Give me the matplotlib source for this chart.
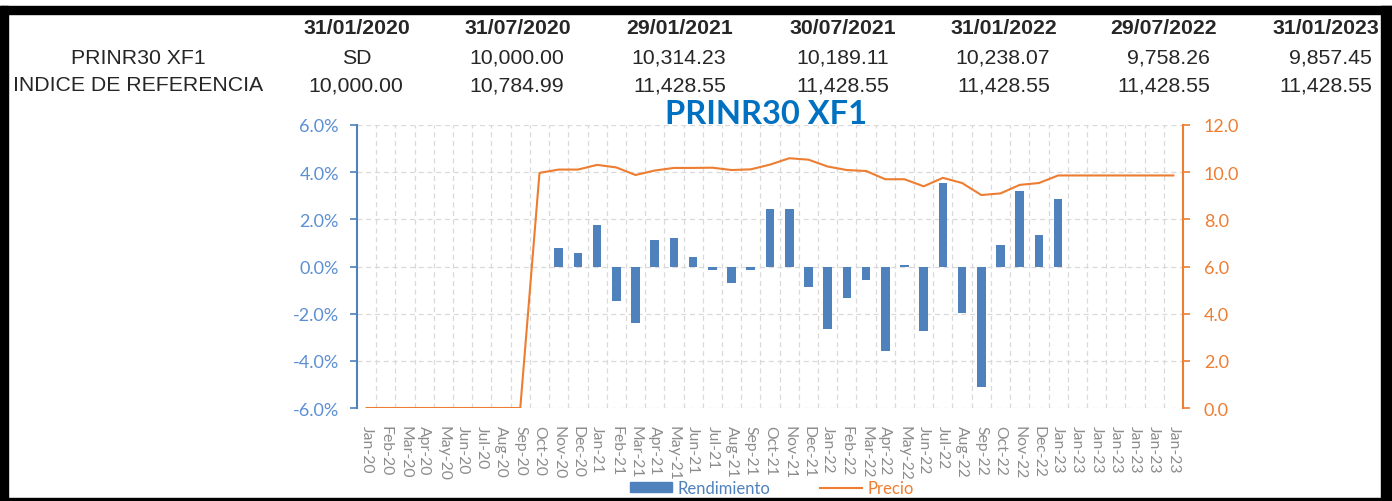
#!/usr/bin/env python
# -*- coding: utf-8 -*-

import matplotlib
matplotlib.use('Agg')
import matplotlib.pyplot as plt
from matplotlib.patches import Rectangle, Patch
from matplotlib.lines import Line2D
from matplotlib.ticker import FuncFormatter
import numpy as np

# categorias del eje x (mensual, con Jan-23 repetido al final)
meses = ['Jan-20', 'Feb-20', 'Mar-20', 'Apr-20', 'May-20', 'Jun-20', 'Jul-20', 'Aug-20',
         'Sep-20', 'Oct-20', 'Nov-20', 'Dec-20', 'Jan-21', 'Feb-21', 'Mar-21', 'Apr-21',
         'May-21', 'Jun-21', 'Jul-21', 'Aug-21', 'Sep-21', 'Oct-21', 'Nov-21', 'Dec-21',
         'Jan-22', 'Feb-22', 'Mar-22', 'Apr-22', 'May-22', 'Jun-22', 'Jul-22', 'Aug-22',
         'Sep-22', 'Oct-22', 'Nov-22', 'Dec-22', 'Jan-23', 'Jan-23', 'Jan-23', 'Jan-23',
         'Jan-23', 'Jan-23', 'Jan-23']

# rendimiento mensual (%)
rendimiento = [0, 0, 0, 0, 0, 0, 0, 0,
               0, 0, 0.77, 0.57, 1.74, -1.46, -2.40, 1.12,
               1.20, 0.40, -0.14, -0.69, -0.14, 2.45, 2.45, -0.85,
               -2.67, -1.33, -0.56, -3.60, 0.06, -2.72, 3.55, -1.97,
               -5.13, 0.90, 3.22, 1.33, 2.85, 0, 0, 0,
               0, 0, 0]

# precio (miles)
precio = [0, 0, 0, 0, 0, 0, 0, 0,
          0, 9.97, 10.11, 10.11, 10.31, 10.20, 9.88, 10.07,
          10.18, 10.18, 10.19, 10.09, 10.12, 10.32, 10.59, 10.53,
          10.24, 10.09, 10.05, 9.70, 9.70, 9.40, 9.76, 9.54,
          9.03, 9.10, 9.46, 9.54, 9.86, 9.86, 9.86, 9.86,
          9.86, 9.86, 9.86]

# tabla superior
fechas = ['31/01/2020', '31/07/2020', '29/01/2021', '30/07/2021',
          '31/01/2022', '29/07/2022', '31/01/2023']
fila_fondo = ['SD', '10,000.00', '10,314.23', '10,189.11',
              '10,238.07', '9,758.26', '9,857.45']
fila_indice = ['10,000.00', '10,784.99', '11,428.55', '11,428.55',
               '11,428.55', '11,428.55', '11,428.55']

AZUL = '#4F81BD'
NARANJA = '#ED7D31'
GRIS = '#D9D9D9'

W, H = 1392, 502


def fx(px):
    return px / float(W)


def fy(py):
    return 1 - py / float(H)


def dibujar_tabla(fig):
    tabla_font = ['Liberation Sans', 'DejaVu Sans']
    centros = [357, 518, 680, 843, 1004, 1164, 1326]
    fig.text(fx(138), fy(58), 'PRINR30 XF1', ha='center', va='center',
             fontsize=15.3, family=tabla_font, color='#262626')
    fig.text(fx(138), fy(86), 'INDICE DE REFERENCIA', ha='center', va='center',
             fontsize=15.3, family=tabla_font, color='#262626')
    for c, f, a, b in zip(centros, fechas, fila_fondo, fila_indice):
        fig.text(fx(c), fy(29), f, ha='center', va='center', fontsize=15.3,
                 fontweight='bold', family=tabla_font, color='#262626')
        if a == 'SD':
            fig.text(fx(c), fy(58), a, ha='center', va='center', fontsize=15.3,
                     family=tabla_font, color='#262626')
        else:
            fig.text(fx(c + 46), fy(58), a, ha='right', va='center', fontsize=15.3,
                     family=tabla_font, color='#262626')
        fig.text(fx(c + 46), fy(86), b, ha='right', va='center', fontsize=15.3,
                 family=tabla_font, color='#262626')


def plot_fondo():
    plt.rcParams['font.family'] = ['Lato', 'DejaVu Sans']
    fig = plt.figure(figsize=(W / 100.0, H / 100.0), dpi=100)
    fig.patch.set_facecolor('white')

    ax = fig.add_axes([fx(357), fy(409), fx(1183) - fx(357), fy(126) - fy(409)])
    ax2 = ax.twinx()

    x = np.arange(len(meses))

    # barras de rendimiento
    ax.bar(x, rendimiento, width=0.45, color=AZUL, zorder=3)
    ax.set_xlim(-0.5, len(meses) - 0.5)
    ax.set_ylim(-6, 6)
    ax.set_yticks(np.arange(-6, 6.1, 2))
    ax.yaxis.set_major_formatter(FuncFormatter(lambda v, p: '%.1f%%' % v))

    ax.set_xticks(x)
    ax.set_xticklabels(meses, rotation=-90, fontsize=11.3, color='#8C8C8C')
    ax.set_xticks(np.arange(0.5, len(meses) - 1, 1), minor=True)
    ax.tick_params(axis='x', which='both', length=0, pad=12)
    ax.tick_params(axis='y', colors=AZUL, labelsize=13, length=5, width=1.2, pad=8)
    for t in ax.get_yticklabels():
        t.set_color('#5B8FD3')

    ax.grid(which='major', axis='y', color=GRIS, linestyle=(0, (4, 3)), linewidth=0.9, zorder=0)
    ax.grid(which='minor', axis='x', color=GRIS, linestyle=(0, (4, 3)), linewidth=0.9, zorder=0)
    ax.set_axisbelow(True)

    for s in ['top', 'bottom', 'right']:
        ax.spines[s].set_visible(False)
    ax.spines['left'].set_color(AZUL)
    ax.spines['left'].set_linewidth(1.5)

    # linea de precio
    ax2.plot(x, precio, color=NARANJA, linewidth=1.5, zorder=4)
    ax2.set_ylim(0, 12)
    ax2.set_yticks(np.arange(0, 12.1, 2))
    ax2.yaxis.set_major_formatter(FuncFormatter(lambda v, p: '%.1f' % v))
    ax2.tick_params(axis='y', colors=NARANJA, labelsize=13, length=5, width=1.2, pad=10)
    for s in ['top', 'bottom', 'left']:
        ax2.spines[s].set_visible(False)
    ax2.spines['right'].set_color(NARANJA)
    ax2.spines['right'].set_linewidth(1.5)

    # titulo
    fig.text(fx(766), fy(114), 'PRINR30 XF1', ha='center', va='center',
             fontsize=23.5, fontweight='bold', color='#0070C0')

    # leyenda
    handles = [Patch(color=AZUL), Line2D([0], [0], color=NARANJA, linewidth=1.5)]
    leg = fig.legend(handles, ['Rendimiento', 'Precio'], loc='center',
                     bbox_to_anchor=(fx(772), fy(489)), ncol=2, frameon=False,
                     fontsize=12, handlelength=2.5, handleheight=0.5,
                     handletextpad=0.35, columnspacing=3.0)
    leg.get_texts()[0].set_color(AZUL)
    leg.get_texts()[1].set_color(NARANJA)

    dibujar_tabla(fig)

    # marco negro
    for (x0, y0, x1, y1) in [(0, 7, W, 15), (0, 7, 8, H), (1381, 7, W, H), (0, 499, W, H)]:
        fig.add_artist(Rectangle((fx(x0), fy(y1)), fx(x1) - fx(x0), fy(y0) - fy(y1),
                                 transform=fig.transFigure, color='black', zorder=10))

    fig.savefig('out.png', dpi=100, facecolor='white')
    return


#####

if __name__ == "__main__":
    plot_fondo()
